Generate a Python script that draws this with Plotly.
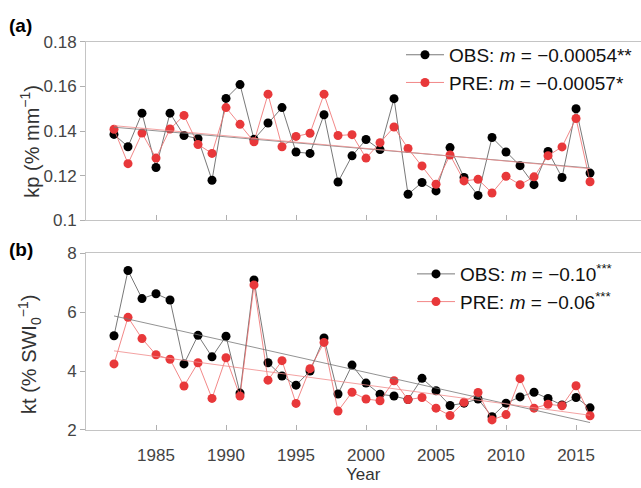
import numpy as np
import plotly.graph_objects as go

years = list(range(1982, 2017))

kp_obs = [0.1385, 0.133, 0.148, 0.1237, 0.148, 0.138, 0.1366, 0.118, 0.1546, 0.1608,
          0.1363, 0.1436, 0.1505, 0.1306, 0.130, 0.1473, 0.1172, 0.1289, 0.1362, 0.1317,
          0.1545, 0.1117, 0.117, 0.1132, 0.1326, 0.1192, 0.1112, 0.1371, 0.1306, 0.1245,
          0.116, 0.1309, 0.1192, 0.150, 0.1212]
kp_pre = [0.1408, 0.1254, 0.1391, 0.1279, 0.1409, 0.147, 0.134, 0.130, 0.1505, 0.143,
          0.1352, 0.1565, 0.133, 0.1376, 0.139, 0.1565, 0.138, 0.1384, 0.1279, 0.1348,
          0.1418, 0.1322, 0.1244, 0.1162, 0.1293, 0.1177, 0.1184, 0.1123, 0.1198, 0.116,
          0.1195, 0.129, 0.1329, 0.1456, 0.1173]

kt_obs = [5.196, 7.41, 6.457, 6.62, 6.41, 4.24, 5.21, 4.48, 5.18, 3.25,
          7.09, 4.28, 3.83, 3.52, 4.0, 5.12, 3.22, 4.2, 3.59, 3.21,
          3.15, 3.03, 3.75, 3.33, 2.83, 2.91, 3.05, 2.45, 2.91, 3.12,
          3.28, 3.07, 2.85, 3.1, 2.75]
kt_pre = [4.24, 5.82, 5.1, 4.55, 4.4, 3.49, 4.28, 3.07, 4.45, 3.15,
          6.92, 3.69, 4.35, 2.9, 4.08, 4.97, 2.64, 3.28, 3.05, 2.99,
          3.67, 3.03, 3.1, 2.74, 2.49, 2.94, 3.27, 2.34, 2.52, 3.74,
          2.74, 2.87, 2.82, 3.5, 2.48]

legend_a = ["OBS: <i>m</i> = −0.00054**", "PRE: <i>m</i> = −0.00057*"]
legend_b = ["OBS: <i>m</i> = −0.10<sup>***</sup>", "PRE: <i>m</i> = −0.06<sup>***</sup>"]

x_ticks = [1985, 1990, 1995, 2000, 2005, 2010, 2015]
kp_ticks = [0.1, 0.12, 0.14, 0.16, 0.18]
kp_ticktext = ["0.1", "0.12", "0.14", "0.16", "0.18"]
kt_ticks = [2, 4, 6, 8]

BLACK = "#000000"
RED = "#e8383a"
LINE_BLACK = "#555555"
LINE_RED = "#ef6a6a"
FONT = "Liberation Sans, Arial, Helvetica, sans-serif"

W, H = 641, 488
fig = go.Figure()


def add_panel(obs, pre, names, xa, ya, legend):
    x = np.array(years, dtype=float)
    for vals, name, mc, lc in [(obs, names[0], BLACK, LINE_BLACK), (pre, names[1], RED, LINE_RED)]:
        fig.add_trace(go.Scatter(
            x=years, y=vals, mode="lines+markers", name=name,
            line=dict(color=lc, width=0.8),
            marker=dict(color=mc, size=9, line=dict(width=0)),
            xaxis=xa, yaxis=ya, legend=legend))
    for vals, lc in [(obs, "#777777"), (pre, "#f08a8a")]:
        p = np.polyfit(x, np.array(vals), 1)
        xs = [years[0], years[-1]]
        fig.add_trace(go.Scatter(
            x=xs, y=[p[0] * xs[0] + p[1], p[0] * xs[1] + p[1]], mode="lines",
            line=dict(color=lc, width=0.8), showlegend=False, hoverinfo="skip",
            xaxis=xa, yaxis=ya))


add_panel(kp_obs, kp_pre, legend_a, "x", "y", "legend")
add_panel(kt_obs, kt_pre, legend_b, "x2", "y2", "legend2")

xdom = [86 / W, 1.0]
ydom_a = [1 - 220 / H, 1 - 34 / H]
ydom_b = [1 - 438 / H, 1 - 254 / H]

axis_common = dict(showgrid=False, zeroline=False, showline=True, linecolor="#c4c4c4",
                   linewidth=1, tickcolor="#b0b0b0", ticklen=5, tickwidth=1,
                   tickfont=dict(family=FONT, size=17, color="#444444"))

fig.update_layout(
    width=W, height=H,
    margin=dict(l=0, r=0, t=0, b=0),
    paper_bgcolor="white", plot_bgcolor="white",
    font=dict(family=FONT, color="#222222"),
    xaxis=dict(domain=xdom, anchor="y", range=[1980, 2019.64], tickvals=x_ticks,
               showticklabels=False, ticks="inside", mirror=True, **axis_common),
    yaxis=dict(domain=ydom_a, anchor="x", range=[0.1, 0.18], tickvals=kp_ticks,
               ticktext=kp_ticktext, ticks="outside", **axis_common),
    xaxis2=dict(domain=xdom, anchor="y2", range=[1980, 2019.64], tickvals=x_ticks,
                ticks="inside", mirror=True, ticklabelstandoff=10, **axis_common),
    yaxis2=dict(domain=ydom_b, anchor="x2", range=[2, 8], tickvals=kt_ticks,
                ticks="outside", **axis_common),
    legend=dict(x=401 / W, y=1 - 28 / H, xanchor="left", yanchor="top",
                bgcolor="rgba(0,0,0,0)", font=dict(family=FONT, size=19, color="#111111"),
                itemwidth=38, tracegroupgap=0),
    legend2=dict(x=412 / W, y=1 - 256 / H, xanchor="left", yanchor="top",
                 bgcolor="rgba(0,0,0,0)", font=dict(family=FONT, size=19, color="#111111"),
                 itemwidth=38, tracegroupgap=0),
    showlegend=True,
)

annotations = [
    dict(text="<b>(a)</b>", x=7 / W, y=1 - 17 / H, xanchor="left", yanchor="middle",
         font=dict(family=FONT, size=19, color="#000000")),
    dict(text="<b>(b)</b>", x=7 / W, y=1 - 250 / H, xanchor="left", yanchor="middle",
         font=dict(family=FONT, size=19, color="#000000")),
    dict(text="kp (% mm<sup>−1</sup>)", x=30 / W, y=1 - 138 / H, textangle=-90,
         xanchor="center", yanchor="middle", font=dict(family=FONT, size=20, color="#333333")),
    dict(text="kt (% SWI<sub>0</sub><sup>−1</sup>)", x=30 / W, y=1 - 360 / H, textangle=-90,
         xanchor="center", yanchor="middle", font=dict(family=FONT, size=20, color="#333333")),
    dict(text="Year", x=(86 + 555 / 2) / W, y=1 - 484 / H, xanchor="center", yanchor="middle",
         font=dict(family=FONT, size=17, color="#333333")),
]
for a in annotations:
    a.update(xref="paper", yref="paper", showarrow=False)
fig.update_layout(annotations=annotations)

fig.write_html("out.html", config={"displayModeBar": False},
               post_script="document.body.style.margin='0';document.body.style.overflow='hidden';")
